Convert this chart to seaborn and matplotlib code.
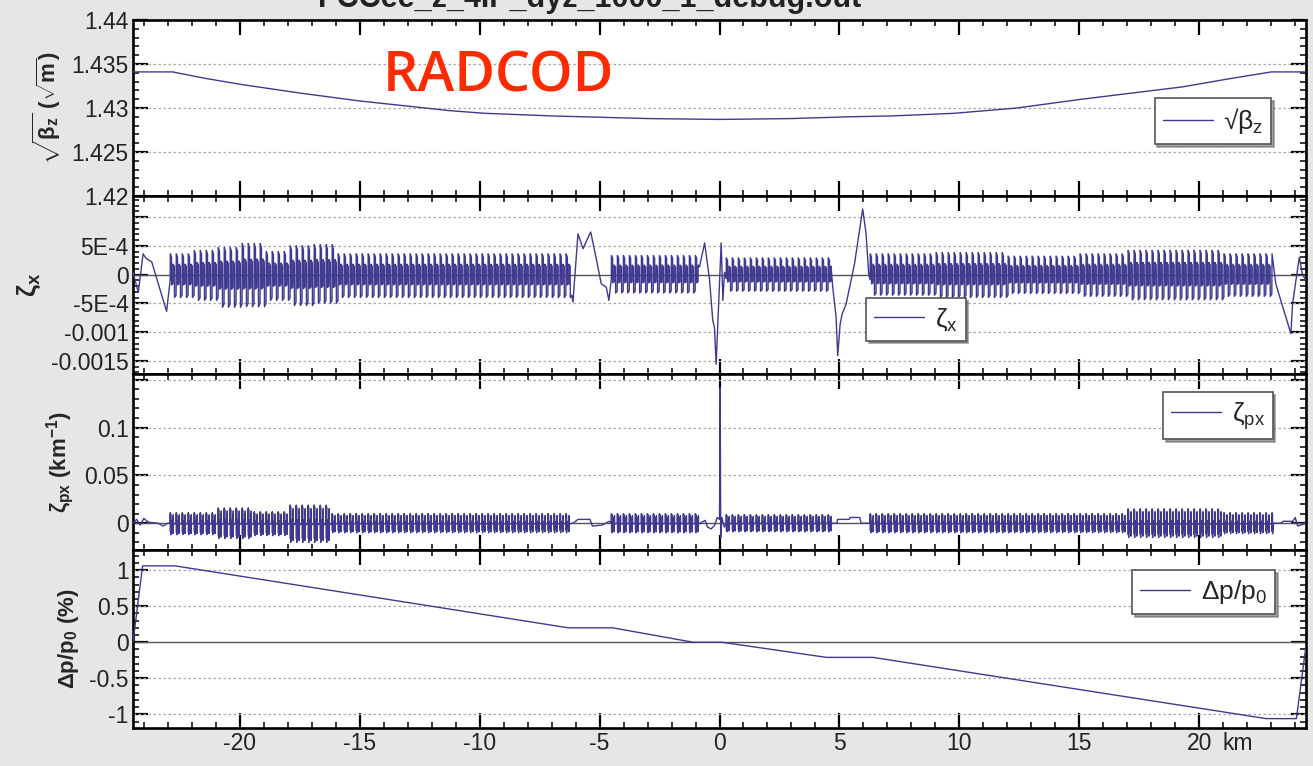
import numpy as np
import pandas as pd
import matplotlib
matplotlib.use("Agg")
import matplotlib.pyplot as plt
import seaborn as sns
from matplotlib.ticker import FixedLocator, FixedFormatter, MultipleLocator

# ---------------------------------------------------------------- data
# longitudinal position along the ring section (km)
X_LIM = (-24.45, 24.45)
X_MAJOR = [-20, -15, -10, -5, 0, 5, 10, 15, 20]
X_LABELS = ["-20", "-15", "-10", "-5", "0", "5", "10", "15", "20"]

# sqrt(beta_z) in sqrt(m)
BZ_S = [-24.45, -22.8, -21.5, -20.0, -17.5, -15.0, -11.25, -9.8, -7.0, -3.0, 0.0,
        3.0, 5.4, 7.2, 9.8, 12.4, 15.1, 17.2, 19.3, 21.2, 23.0, 24.45]
BZ_V = [1.4341, 1.4341, 1.4334, 1.4327, 1.4317, 1.4308, 1.4297, 1.4294, 1.4291,
        1.4288, 1.4287, 1.4288, 1.4290, 1.4291, 1.4294, 1.4300, 1.4310, 1.4317,
        1.4324, 1.4333, 1.4341, 1.4341]

# momentum deviation dp/p0 in %
DP_S = [-24.45, -24.05, -22.7, -11.25, -6.3, -4.45, -1.1, 0.1, 4.46, 6.4, 22.8,
        24.05, 24.45]
DP_V = [0.0, 1.06, 1.06, 0.46, 0.20, 0.20, 0.0, 0.0, -0.21, -0.21, -1.06,
        -1.06, -0.05]

# arc sections with periodic cells
ARCS = [(-22.9, -6.15), (-4.51, -0.83), (0.28, 4.69), (6.28, 23.06)]
CELL_KM = 0.25

# zeta_x: straight-section / insertion pieces (x in km, value)
ZX_GAP_S = [
    [-24.45, -24.23, -24.03, -23.9, -23.67, -23.05],
    [-6.11, -5.90, -5.69, -5.37, -5.15, -4.93, -4.72, -4.61],
    [-0.62, -0.53, -0.42, -0.28, -0.21, -0.14, 0.07, 0.14, 0.21],
    [4.72, 4.86, 4.93, 5.03, 5.11, 5.28, 5.63, 5.97, 6.11, 6.22],
    [23.19, 23.40, 23.82, 23.89, 24.03, 24.17, 24.30, 24.44],
]
ZX_GAP_V = [
    [0.4e-4, -3.1e-4, 3.6e-4, 2.8e-4, 2.2e-4, -6.4e-4],
    [-4.8e-4, 7.1e-4, 4.5e-4, 7.4e-4, 3.0e-4, -1.6e-4, -2.2e-4, -4.5e-4],
    [5.5e-4, 2.7e-4, -0.7e-4, -8.0e-4, -9.2e-4, -15.6e-4, 5.5e-4, -4.5e-4, 0.4e-4],
    [-2.2e-4, -7.4e-4, -14.1e-4, -8.6e-4, -6.9e-4, -5.1e-4, 1.9e-4, 11.4e-4, 7.1e-4, 0.1e-4],
    [-1.6e-4, -4.5e-4, -10.3e-4, -5.1e-4, -1.0e-4, 3.0e-4, 0.1e-4, -1.0e-4],
]
# zeta_x: arc envelope per block (edges in km, upper and lower peaks)
ZX_EDGES = [
    [-22.9, -22, -21, -20, -19, -18, -17, -16, -6.15],
    [-4.51, -0.83],
    [0.28, 4.69],
    [6.28, 9, 12, 15, 17, 21, 23.06],
]
ZX_HI = [
    [3.6e-4, 4.2e-4, 4.7e-4, 5.4e-4, 4.0e-4, 5.0e-4, 5.2e-4, 3.6e-4],
    [3.3e-4],
    [2.9e-4],
    [3.6e-4, 3.8e-4, 3.2e-4, 3.6e-4, 4.2e-4, 3.6e-4],
]
ZX_LO = [
    [-4.0e-4, -4.5e-4, -5.7e-4, -5.6e-4, -4.5e-4, -5.4e-4, -5.0e-4, -4.0e-4],
    [-3.2e-4],
    [-2.9e-4],
    [-3.6e-4, -4.0e-4, -3.3e-4, -3.8e-4, -4.4e-4, -3.8e-4],
]
# shape of one cell (fraction of the cell, fraction of the envelope)
ZX_CELL_POS = [0.00, 0.02, 0.22, 0.24, 0.46, 0.48, 0.70, 0.72, 0.98]
ZX_CELL_VAL = [-0.25, 1.0, 0.85, -0.45, -0.4, 0.5, 0.4, -1.0, -0.9]

# zeta_px in 1/km
ZPX_GAP_S = [
    [-24.45, -24.3, -24.15, -24.0, -23.8, -23.4, -23.2, -23.0],
    [-6.1, -5.9, -5.4, -5.3, -4.9, -4.6],
    [-0.6, -0.5, -0.35, -0.2, -0.1, 0.0, 0.03, 0.05, 0.1, 0.2],
    [4.72, 4.9, 4.92, 5.4, 5.45, 5.85, 5.9, 6.25],
    [23.1, 23.4, 23.5, 23.9, 24.0, 24.1, 24.45],
]
ZPX_GAP_V = [
    [0.0, 0.004, -0.002, 0.005, 0.001, 0.0, -0.003, 0.0],
    [0.0, 0.004, 0.004, -0.003, -0.002, 0.002],
    [0.003, -0.004, -0.006, -0.002, 0.006, 0.004, 0.142, -0.015, 0.006, -0.004],
    [0.0, 0.0, 0.004, 0.004, 0.006, 0.006, 0.0, 0.0],
    [0.0, 0.0, 0.002, 0.002, 0.006, -0.003, 0.0],
]
ZPX_EDGES = [
    [-22.9, -21, -19.5, -18, -16.3, -6.15],
    [-4.51, -0.83],
    [0.28, 4.69],
    [6.28, 17, 21, 23.06],
]
ZPX_HI = [[0.011, 0.016, 0.012, 0.019, 0.010], [0.010], [0.009], [0.010, 0.015, 0.011]]
ZPX_LO = [[-0.012, -0.016, -0.013, -0.020, -0.010], [-0.010], [-0.009], [-0.010, -0.015, -0.011]]
ZPX_CELL_POS = [0.00, 0.02, 0.05, 0.08, 0.11, 0.14, 0.40, 0.43, 0.46, 0.49, 0.52, 0.55, 0.97]
ZPX_CELL_VAL = [0.0, 1.0, -0.8, 0.9, -1.0, 0.2, 0.1, -0.7, 0.6, -0.9, 0.8, -0.1, 0.0]


def arc_points(x0, x1, edges, hi, lo, cpos, cval):
    xs, ys = [], []
    for start in np.arange(x0, x1, CELL_KM):
        k = min(np.searchsorted(edges, start, side="right") - 1, len(hi) - 1)
        for p, v in zip(cpos, cval):
            x = start + p * CELL_KM
            if x > x1:
                break
            xs.append(x)
            ys.append(v * hi[k] if v >= 0 else -v * lo[k])
    return xs, ys


def assemble(gap_s, gap_v, edges, his, los, cpos, cval):
    xs, ys = [], []
    for i in range(len(gap_s)):
        xs += list(gap_s[i])
        ys += list(gap_v[i])
        if i < len(ARCS):
            ax_, ay_ = arc_points(ARCS[i][0], ARCS[i][1], edges[i], his[i], los[i], cpos, cval)
            xs += ax_
            ys += ay_
    return pd.DataFrame({"s": xs, "v": ys})


zx_df = assemble(ZX_GAP_S, ZX_GAP_V, ZX_EDGES, ZX_HI, ZX_LO, ZX_CELL_POS, ZX_CELL_VAL)
zpx_df = assemble(ZPX_GAP_S, ZPX_GAP_V, ZPX_EDGES, ZPX_HI, ZPX_LO, ZPX_CELL_POS, ZPX_CELL_VAL)
bz_df = pd.DataFrame({"s": BZ_S, "v": BZ_V})
dp_df = pd.DataFrame({"s": DP_S, "v": DP_V})

# ---------------------------------------------------------------- style
sns.set_theme(style="white")
plt.rcParams["font.family"] = ["Liberation Sans", "DejaVu Sans"]
plt.rcParams["mathtext.fontset"] = "custom"
plt.rcParams["mathtext.rm"] = "Liberation Sans"
plt.rcParams["mathtext.it"] = "Liberation Sans:italic"
plt.rcParams["mathtext.bf"] = "Liberation Sans:bold"
plt.rcParams["mathtext.sf"] = "Liberation Sans"

LINE = "#3f3a8f"
BG = "#e6e6e6"
W, H = 1313, 766

fig = plt.figure(figsize=(W / 100, H / 100), dpi=100, facecolor=BG)

left = 133 / W
width = (1306 - 133) / W
rows = [(20, 196), (196, 374), (374, 550), (550, 728)]

panels = [
    dict(df=bz_df, ylim=(1.42, 1.44), major=[1.42, 1.425, 1.43, 1.435, 1.44],
         labels=["1.42", "1.425", "1.43", "1.435", "1.44"], minor=0.001,
         ylabel=r"$\sqrt{\mathbf{β}_{\mathbf{z}}}\ \mathbf{(}\sqrt{\mathbf{m}}\mathbf{)}$",
         ysize=16, legend=r"√β$_{\mathrm{z}}$", leg_at=(0.871, 0.557), zero=False),
    dict(df=zx_df, ylim=(-0.00173, 0.001366),
         major=[-0.0015, -0.001, -5e-4, 0, 5e-4, 0.001],
         labels=["-0.0015", "-0.001", "-5E-4", "0", "5E-4", ""], minor=1e-4,
         ylabel=r"$\mathbf{ζ}_{\mathbf{x}}$",
         ysize=19, legend=r"ζ$_{\mathrm{x}}$", leg_at=(0.625, 0.427), zero=True),
    dict(df=zpx_df, ylim=(-0.028, 0.156), major=[0, 0.05, 0.1, 0.15],
         labels=["0", "0.05", "0.1", ""], minor=0.01,
         ylabel=r"$\mathbf{ζ}_{\mathbf{px}}\ \mathbf{(km}^{\mathbf{-1}}\mathbf{)}$",
         ysize=16, legend=r"ζ$_{\mathrm{px}}$", leg_at=(0.878, 0.898), zero=True),
    dict(df=dp_df, ylim=(-1.19, 1.28), major=[-1, -0.5, 0, 0.5, 1],
         labels=["-1", "-0.5", "0", "0.5", "1"], minor=0.1,
         ylabel=r"$\mathbf{Δp/p}_{\mathbf{0}}\ \mathbf{(\%)}$",
         ysize=16, legend=r"Δp/p$_{\mathrm{0}}$", leg_at=(0.852, 0.888), zero=True),
]

axes = []
for (top, bot), p in zip(rows, panels):
    ax = fig.add_axes([left, 1 - bot / H, width, (bot - top) / H])
    ax.set_facecolor("white")
    ax.set_xlim(*X_LIM)
    ax.set_ylim(*p["ylim"])

    for yv in p["major"]:
        if yv == 0 and p["zero"]:
            continue
        ax.axhline(yv, color="#a8a8a8", lw=0.9, ls=(0, (2, 2)), zorder=1)
    if p["zero"]:
        ax.axhline(0, color="#555555", lw=1.0, zorder=1)

    sns.lineplot(data=p["df"], x="s", y="v", sort=False, estimator=None, ax=ax,
                 color=LINE, lw=1.0, label=p["legend"], zorder=3)

    leg = ax.legend(loc="upper left", bbox_to_anchor=p["leg_at"], fontsize=19,
                    frameon=True, fancybox=False, shadow=True, handlelength=1.9,
                    handletextpad=0.4, borderpad=0.3, borderaxespad=0)
    leg.get_frame().set_edgecolor("#555555")
    leg.get_frame().set_linewidth(1.2)
    for ln in leg.get_lines():
        ln.set_linewidth(1.0)

    ax.yaxis.set_major_locator(FixedLocator(p["major"]))
    ax.yaxis.set_major_formatter(FixedFormatter(p["labels"]))
    ax.yaxis.set_minor_locator(MultipleLocator(p["minor"]))
    ax.xaxis.set_major_locator(FixedLocator(X_MAJOR))
    ax.xaxis.set_minor_locator(MultipleLocator(1))

    ax.tick_params(which="both", direction="in", top=True, right=True,
                   bottom=True, left=True, labelsize=16.5, pad=3, colors="black")
    ax.tick_params(which="major", length=11, width=1.6)
    ax.tick_params(which="minor", length=4.5, width=1.1)
    ax.tick_params(axis="y", labelcolor="#222222")
    for sp in ax.spines.values():
        sp.set_visible(True)
        sp.set_color("black")
        sp.set_linewidth(1.9)

    ax.set_xlabel("")
    ax.set_ylabel(p["ylabel"], fontsize=p["ysize"], labelpad=6)
    if p is not panels[-1]:
        ax.tick_params(axis="x", labelbottom=False)
    else:
        ax.xaxis.set_major_formatter(FixedFormatter(X_LABELS))
        ax.tick_params(axis="x", labelcolor="#222222")
        ax.annotate("km", xy=(20.96, 0), xycoords=("data", "axes fraction"),
                    xytext=(0, -3), textcoords="offset points",
                    ha="left", va="top", fontsize=16.5, color="#222222")
    axes.append(ax)

# file title running off the top edge
fig.text(0.449, 1 - 7 / H, "FCCee_z_4IP_dyz_1000_1_debug.out", ha="center",
         va="baseline", fontsize=22, fontweight="bold", color="#222222")

# code name tag
fig.text(383 / W, 1 - 92 / H, "RADCOD", ha="left", va="baseline", fontsize=40,
         fontweight="semibold", color="#ff2a00", family=["Open Sans", "DejaVu Sans"])

fig.savefig("out.png", dpi=100, facecolor=BG)
